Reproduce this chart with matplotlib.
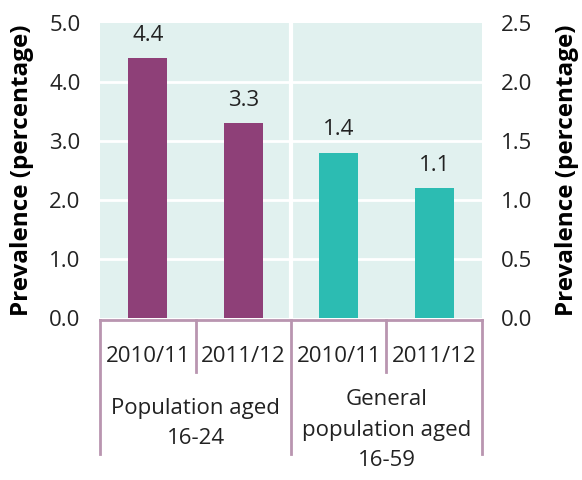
import matplotlib.pyplot as plt

plt.rcParams['font.family'] = ['Open Sans', 'DejaVu Sans']

years = ["2010/11", "2011/12", "2010/11", "2011/12"]
groups = ["Population aged\n16-24", "General\npopulation aged\n16-59"]
young_values = [4.4, 3.3]
general_values = [1.4, 1.1]

purple = "#8e4078"
teal = "#2cbcb2"
bg = "#e1f1ef"
line_col = "#b995b0"
txt = "#222222"
fs = 16

fig = plt.figure(figsize=(5.82, 4.8), dpi=100)
ax = fig.add_axes([0.172, 0.3375, 0.656, 0.6145])
ax2 = ax.twinx()

ax.set_facecolor(bg)
ax.set_xlim(0, 4)
ax.set_ylim(0, 5)
ax2.set_ylim(0, 2.5)

for y in [1, 2, 3, 4]:
    ax.axhline(y, color="white", lw=2, zorder=1)
ax.axvline(2, color="white", lw=3, zorder=1)

x_young = [0.5, 1.5]
x_general = [2.5, 3.5]
width = 0.41
bars1 = ax.bar(x_young, young_values, width=width, color=purple, zorder=2)
bars2 = ax2.bar(x_general, general_values, width=width, color=teal, zorder=2)
ax.bar_label(bars1, labels=[f"{v:.1f}" for v in young_values], padding=9, fontsize=fs, color=txt)
ax2.bar_label(bars2, labels=[f"{v:.1f}" for v in general_values], padding=9, fontsize=fs, color=txt)

ax.set_yticks([0, 1, 2, 3, 4, 5])
ax.set_yticklabels([f"{v:.1f}" for v in [0, 1, 2, 3, 4, 5]])
ax2.set_yticks([0, 0.5, 1.0, 1.5, 2.0, 2.5])
ax2.set_yticklabels([f"{v:.1f}" for v in [0, 0.5, 1.0, 1.5, 2.0, 2.5]])
for a in (ax, ax2):
    a.tick_params(axis="y", length=0, labelsize=fs, colors=txt, pad=14)
    a.set_xticks([])
    for s in a.spines.values():
        s.set_visible(False)

ax.set_ylabel("Prevalence (percentage)", fontsize=17.5, fontweight="bold", labelpad=11)
ax2.set_ylabel("Prevalence (percentage)", fontsize=17.5, fontweight="bold", rotation=90, labelpad=16)

# grouped category axis below the plot
tr = ax.get_xaxis_transform()
ax.plot([0, 4], [-0.007, -0.007], color=line_col, lw=2, transform=tr, clip_on=False)
for x in [0, 2, 4]:
    ax.plot([x, x], [-0.007, -0.461], color=line_col, lw=2, transform=tr, clip_on=False)
for x in [1, 3]:
    ax.plot([x, x], [-0.007, -0.183], color=line_col, lw=2, transform=tr, clip_on=False)

for i, label in enumerate(years):
    ax.text(i + 0.5, -0.132, label, transform=tr, ha="center", va="center", fontsize=fs, color=txt)
ax.text(1, -0.357, groups[0], transform=tr, ha="center", va="center", fontsize=fs,
        color=txt, linespacing=1.6)
ax.text(3, -0.38, groups[1], transform=tr, ha="center", va="center", fontsize=fs,
        color=txt, linespacing=1.6)

fig.savefig("out.png", dpi=100)
